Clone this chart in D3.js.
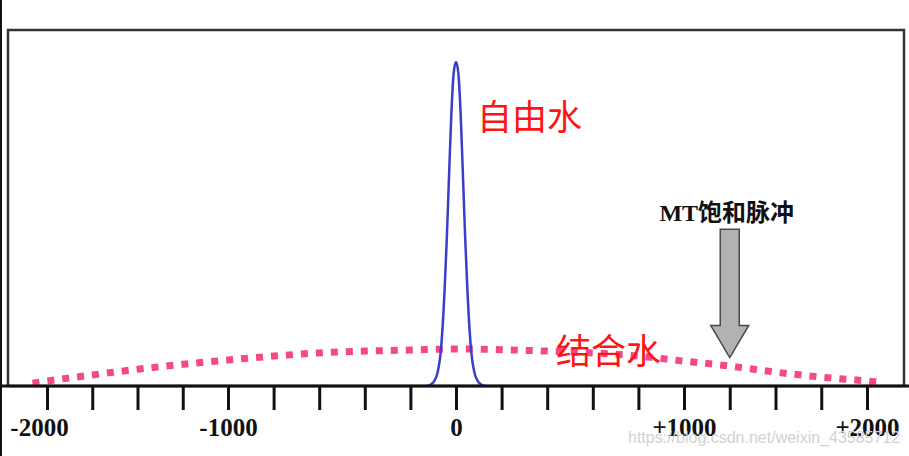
<!DOCTYPE html>
<html>
<head>
<meta charset="utf-8">
<script src="https://cdn.jsdelivr.net/npm/d3@7"></script>
<style>
    body { margin: 0; background: #fff; }
    svg { display: block; }
</style>
</head>
<body>
<div id="wrapper"></div>
<script>
// free water peak (blue)
const blueX = [-125, -100, -80, -65, -50, -40, -30, -20, -10, 0, 10, 20, 30, 40, 50, 65, 80, 100, 125]
const blueY = [0, 0.01, 0.04, 0.11, 0.27, 0.42, 0.60, 0.77, 0.88, 0.91, 0.88, 0.77, 0.60, 0.42, 0.27, 0.11, 0.04, 0.01, 0]

// bound water (pink dotted, broad)
const pinkX = [-2080, -2000, -1750, -1500, -1250, -1000, -800, -600, -400, -200, 0, 200, 400, 600, 800, 1000, 1250, 1500, 1750, 2000, 2070]
const pinkY = [0.008, 0.014, 0.031, 0.047, 0.061, 0.073, 0.084, 0.093, 0.098, 0.101, 0.104, 0.102, 0.098, 0.093, 0.084, 0.070, 0.056, 0.039, 0.025, 0.014, 0.010]

// ticks (schematic, non uniform spacing in original)
const tickValues = [-2000, -1750, -1500, -1250, -1000, -800, -600, -400, -200, 0, 200, 400, 600, 800, 1000, 1250, 1500, 1750, 2000]
const tickLabels = { "-2000": "-2000", "-1000": "-1000", "0": "0", "1000": "+1000", "2000": "+2000" }

const arrowAt = 1250
const arrowTop = 0.44, arrowNeck = 0.17, arrowTip = 0.08

let dimensions = {
    width: 909,
    height: 456,
    frame: { left: 8, right: 904, top: 30, bottom: 386 }
}

let svg = d3.select("#wrapper")
    .append("svg")
    .attr("width", dimensions.width)
    .attr("height", dimensions.height)

let x = d3.scaleLinear()
    .domain([-2000, -1000, 1000, 2000])
    .range([47, 228, 684, 867])

let y = d3.scaleLinear()
    .domain([0, 1])
    .range([dimensions.frame.bottom, dimensions.frame.top])

// left edge of the screenshot
svg.append("line")
    .attr("x1", 1).attr("x2", 1)
    .attr("y1", 0).attr("y2", dimensions.height)
    .attr("stroke", "#111")
    .attr("stroke-width", 2)

// frame
svg.append("rect")
    .attr("x", dimensions.frame.left)
    .attr("y", dimensions.frame.top)
    .attr("width", dimensions.frame.right - dimensions.frame.left)
    .attr("height", dimensions.frame.bottom - dimensions.frame.top)
    .attr("fill", "none")
    .attr("stroke", "#333")
    .attr("stroke-width", 2.5)

// pink dotted curve
let pinkData = pinkX.map((d, i) => [d, pinkY[i]])
svg.append("path")
    .datum(pinkData)
    .attr("fill", "none")
    .attr("stroke", "#f4488b")
    .attr("stroke-width", 7)
    .attr("stroke-dasharray", "7 8")
    .attr("d", d3.line()
        .x(d => x(d[0]))
        .y(d => y(d[1]))
        .curve(d3.curveMonotoneX))

// blue peak
let blueData = blueX.map((d, i) => [d, blueY[i]])
svg.append("path")
    .datum(blueData)
    .attr("fill", "none")
    .attr("stroke", "#3b3ec6")
    .attr("stroke-width", 2.5)
    .attr("d", d3.line()
        .x(d => x(d[0]))
        .y(d => y(d[1]))
        .curve(d3.curveMonotoneX))

// x axis
let axis = svg.append("g")
    .attr("transform", `translate(0,${dimensions.frame.bottom})`)
    .call(d3.axisBottom(x)
        .tickValues(tickValues)
        .tickSize(24)
        .tickPadding(8)
        .tickFormat(d => tickLabels[d] || ""))
axis.select(".domain").remove()
axis.selectAll(".tick line")
    .attr("stroke", "#111")
    .attr("stroke-width", 3)
axis.selectAll(".tick text")
    .attr("fill", "#111")
    .attr("dx", d => d === -2000 ? -8 : 0)
    .style("font-family", "'Liberation Serif', 'DejaVu Serif', serif")
    .style("font-weight", "bold")
    .style("font-size", "25px")

svg.append("line")
    .attr("x1", 0).attr("x2", dimensions.width)
    .attr("y1", dimensions.frame.bottom).attr("y2", dimensions.frame.bottom)
    .attr("stroke", "#111")
    .attr("stroke-width", 3)

// labels
svg.append("text")
    .attr("x", 477)
    .attr("y", 114)
    .attr("dominant-baseline", "central")
    .attr("fill", "#ff1414")
    .style("font-family", "'Noto Sans CJK SC', sans-serif")
    .style("font-size", "35px")
    .text("自由水")

svg.append("text")
    .attr("x", 556)
    .attr("y", 348)
    .attr("dominant-baseline", "central")
    .attr("fill", "#ff1414")
    .style("font-family", "'Noto Sans CJK SC', sans-serif")
    .style("font-size", "35px")
    .text("结合水")

// MT arrow
let ax = x(arrowAt)
let arrowPts = [
    [ax - 9.5, y(arrowTop)], [ax + 9.5, y(arrowTop)],
    [ax + 9.5, y(arrowNeck)], [ax + 19, y(arrowNeck)],
    [ax, y(arrowTip)],
    [ax - 19, y(arrowNeck)], [ax - 9.5, y(arrowNeck)]
]
svg.append("polygon")
    .attr("points", arrowPts.map(p => p.join(",")).join(" "))
    .attr("fill", "#b3b1b4")
    .attr("stroke", "#4a4a4a")
    .attr("stroke-width", 1.5)

svg.append("text")
    .attr("x", ax - 3)
    .attr("y", 221)
    .attr("text-anchor", "middle")
    .attr("fill", "#111")
    .style("font-family", "'Liberation Serif', 'Noto Sans CJK SC', serif")
    .style("font-weight", "bold")
    .style("font-size", "24px")
    .text("MT饱和脉冲")

// watermark
svg.append("text")
    .attr("x", 628)
    .attr("y", 443)
    .attr("fill", "#d2d2d2")
    .style("font-family", "'Liberation Sans', Arial, sans-serif")
    .style("font-size", "16px")
    .text("https://blog.csdn.net/weixin_43585712")
</script>
</body>
</html>
